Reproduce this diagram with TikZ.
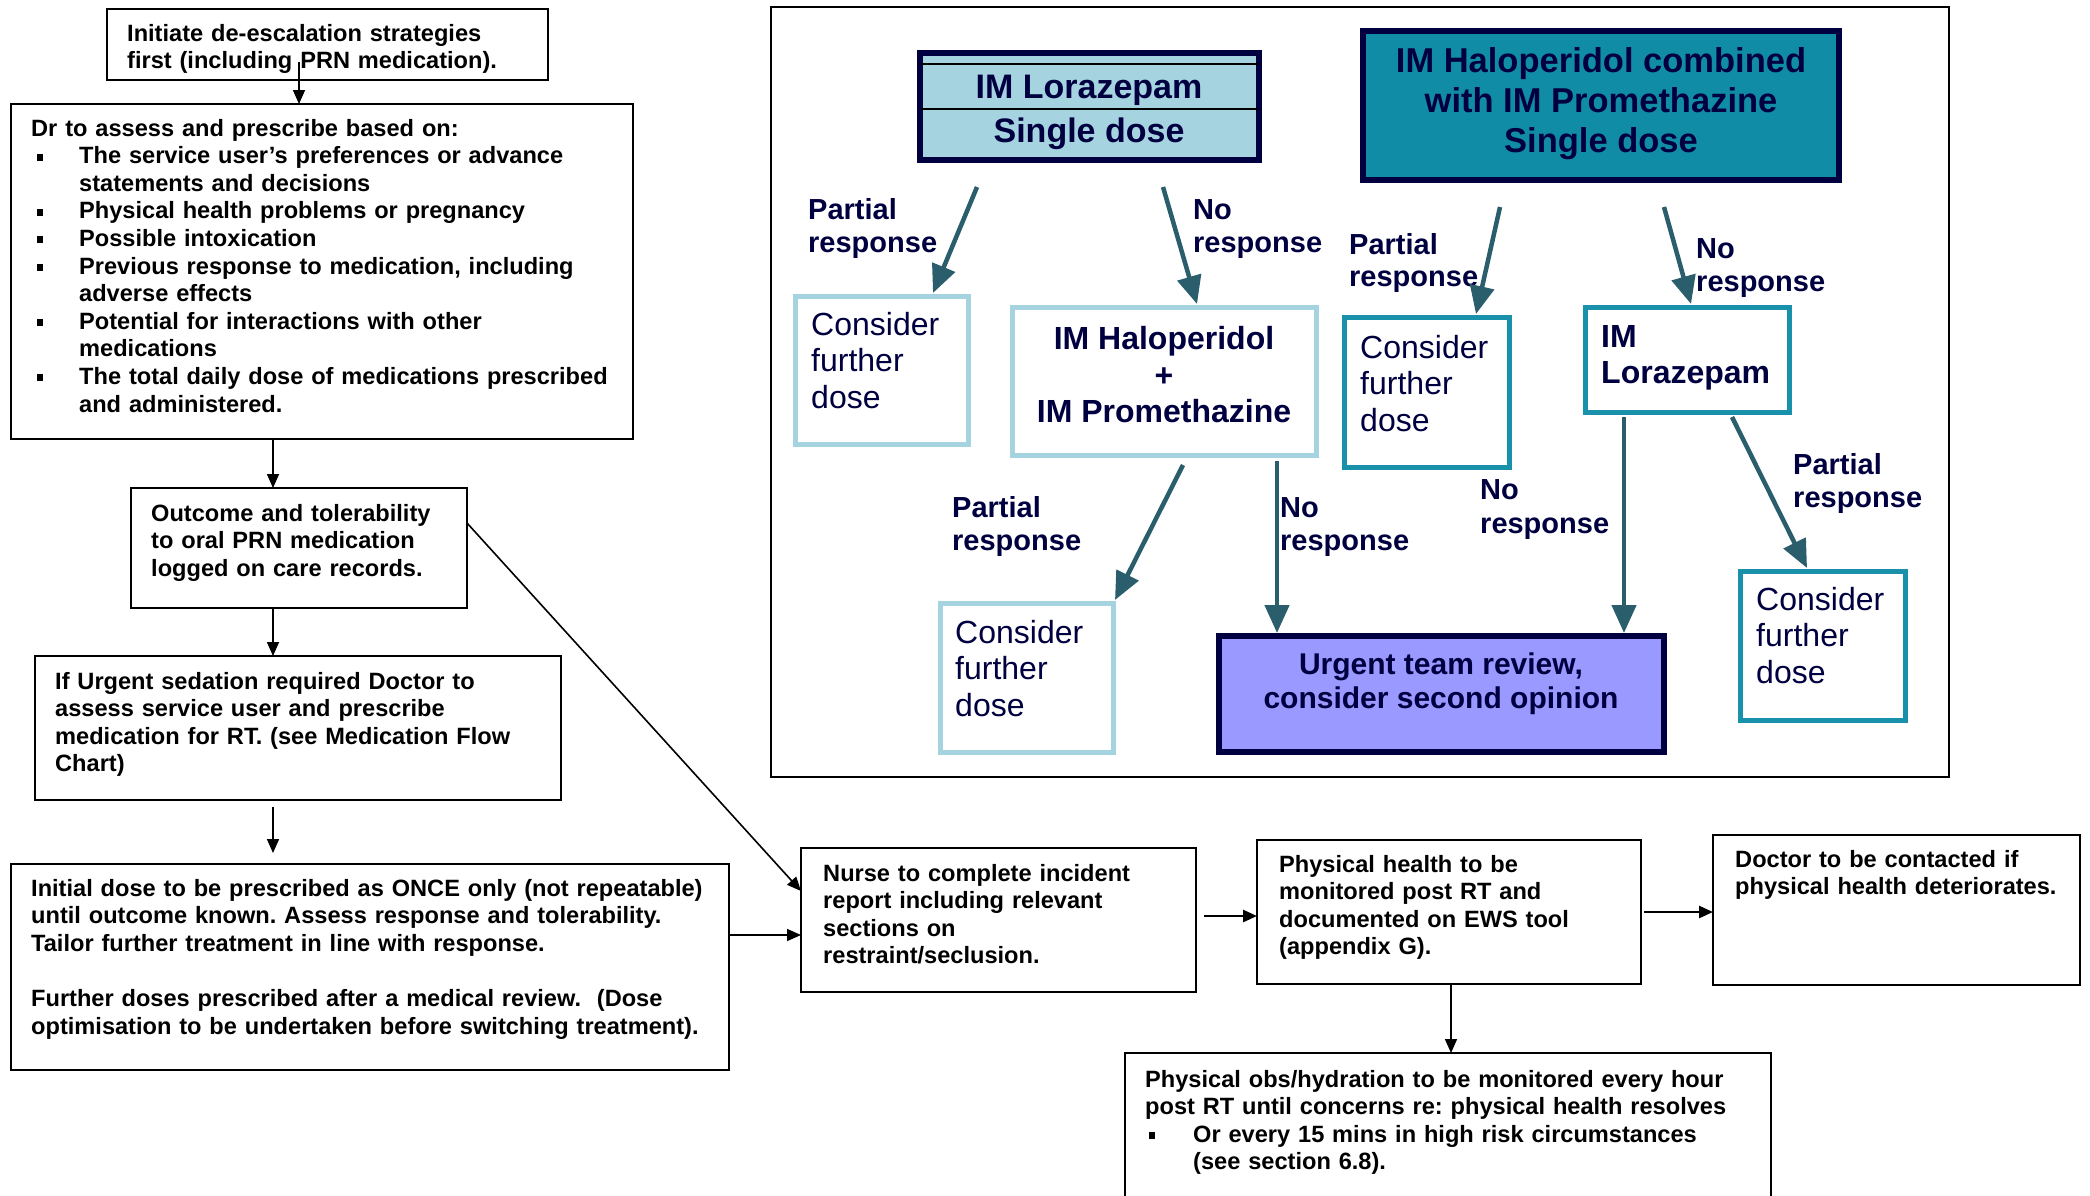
\documentclass[tikz,border=0pt]{standalone}
\usepackage{fontspec}
\setmainfont{Liberation Sans}
\usetikzlibrary{arrows.meta,calc}
\definecolor{navy}{RGB}{0,0,64}
\definecolor{lightb}{RGB}{166,211,224}
\definecolor{tealf}{RGB}{16,140,166}
\definecolor{tealb}{RGB}{25,145,170}
\definecolor{lav}{RGB}{153,153,255}
\definecolor{arrowc}{RGB}{42,94,108}
\newcommand\bul{\makebox[48pt][l]{\hspace{6pt}\rule[3pt]{6pt}{7pt}}}
\newcommand\obul{\makebox[48pt][l]{\hspace{4pt}\rule[3pt]{6pt}{7pt}}}
\newcommand\ind{\hspace*{48pt}}
\frenchspacing
\begin{document}
\begin{tikzpicture}[x=1pt,y=-1pt,
  box/.style={anchor=north west, inner sep=0pt, outer sep=0pt},
  lbox/.style={box, draw=black, line width=1.6pt, fill=white},
  ltxt/.style={anchor=base west, align=left, inner sep=0pt, font=\fontsize{23.6}{27.6}\selectfont\bfseries},
  larr/.style={line width=1.6pt, -{Triangle[length=14pt,width=12pt]}},
  darr/.style={draw=arrowc, line width=4.5pt, -{Triangle[length=28pt,width=24pt]}},
  lightbox/.style={box, draw=lightb, line width=5pt, fill=white},
  tealbox/.style={box, draw=tealb, line width=5pt, fill=white},
  cons/.style={anchor=base west, align=left, inner sep=0pt, text=navy, text width=150pt, font=\fontsize{32}{36.7}\selectfont},
  lab/.style={anchor=base west, align=left, inner sep=0pt, text=navy, text width=160pt, font=\fontsize{29}{33.5}\selectfont\bfseries},
]
\useasboundingbox[fill=white] (0,0) rectangle (2090,1195);

% ---------- left column ----------
\node[lbox, minimum width=441pt, minimum height=71pt] (init) at (107,9) {};
\node[ltxt, text width=420pt] (initT) at (127,41) {Initiate de-escalation strategies\\first (including PRN medication).};

\node[lbox, minimum width=622pt, minimum height=335pt] (dr) at (11,104) {};
\node[ltxt, text width=600pt] (drT) at (31,136) {Dr to assess and prescribe based on:\\
\bul The service user’s preferences or advance\\
\ind statements and decisions\\
\bul Physical health  problems or pregnancy\\
\bul Possible intoxication\\
\bul Previous response to medication, including\\
\ind adverse  effects\\
\bul Potential for interactions with other\\
\ind medications\\
\bul The total daily dose of medications prescribed\\
\ind and administered.};

\node[lbox, minimum width=336pt, minimum height=120pt] (out) at (131,488) {};
\node[ltxt, text width=310pt] (outT) at (151,521) {Outcome and tolerability\\to oral PRN medication\\logged on care records.};

\node[lbox, minimum width=526pt, minimum height=144pt] (usd) at (35,656) {};
\node[ltxt, text width=500pt] (usdT) at (55,689) {If Urgent sedation required Doctor to\\assess service user and prescribe\\medication for RT. (see Medication Flow\\Chart)};

\node[lbox, minimum width=718pt, minimum height=206pt] (ini) at (11,864) {};
\node[ltxt, text width=700pt] (iniT) at (31,896) {Initial dose to be prescribed as ONCE only (not repeatable)\\until outcome known. Assess response and tolerability.\\Tailor further treatment in line with response.\\[27.6pt]Further doses prescribed after a medical review.\ \ (Dose\\optimisation to be undertaken before switching treatment).};

% ---------- bottom row ----------
\node[lbox, minimum width=395pt, minimum height=144pt] (nur) at (801,848) {};
\node[ltxt, text width=370pt] (nurT) at (823,881) {Nurse to complete incident\\report including relevant\\sections on\\restraint/seclusion.};

\node[lbox, minimum width=384pt, minimum height=144pt] (ph) at (1257,840) {};
\node[ltxt, text width=360pt] (phT) at (1279,872) {Physical health to be\\monitored post RT and\\documented on EWS tool\\(appendix G).};

\node[lbox, minimum width=367pt, minimum height=150pt] (doc) at (1713,835) {};
\node[ltxt, text width=345pt] (docT) at (1735,867) {Doctor to be contacted if\\physical health deteriorates.};

\node[lbox, minimum width=646pt, minimum height=180pt] (obs) at (1125,1053) {};
\node[ltxt, text width=630pt] (obsT) at (1145,1087) {Physical obs/hydration to be monitored every hour\\post RT until concerns re: physical health resolves\\\obul Or every 15 mins in high risk circumstances\\\ind (see section 6.8).};

% ---------- left arrows ----------
\draw[larr] ($(init.south west)+(192,-18)$) -- ($(dr.north west)+(288,0)$);
\draw[larr] ($(dr.south west)+(262,0)$) -- ($(out.north west)+(142,0)$);
\draw[larr] ($(out.south west)+(142,0)$) -- ($(usd.north west)+(238,0)$);
\draw[larr] ($(usd.south west)+(238,7)$) -- ($(ini.north west)+(262,-11)$);
\draw[larr] ($(ini.north east)+(0,71)$) -- ($(nur.north west)+(0,87)$);
\draw[larr] ($(out.north east)+(0,35)$) -- ($(nur.north west)+(0,43)$);
\draw[larr, line width=2.6pt] ($(nur.north east)+(8,68)$) -- ($(ph.north west)+(0,76)$);
\draw[larr, line width=2.6pt] ($(ph.north east)+(3,72)$) -- ($(doc.north west)+(0,77)$);
\draw[larr] ($(ph.south west)+(194,0)$) -- ($(obs.north west)+(326,0)$);

% ---------- right panel ----------
\node[box, draw=black, line width=1.6pt, minimum width=1178pt, minimum height=770pt] (frame) at (771,7) {};

\node[box, draw=navy, fill=lightb, line width=5.5pt, minimum width=339pt, minimum height=107pt] (lor) at (920,53) {};
\draw[black, line width=2pt] ($(lor.north west)+(0,11)$) -- ($(lor.north east)+(0,11)$);
\draw[black, line width=2pt] ($(lor.north west)+(0,56)$) -- ($(lor.north east)+(0,56)$);
\node[text=navy, inner sep=0pt, align=center, font=\fontsize{34}{44}\selectfont\bfseries] (lorT) at (1089,112) {IM Lorazepam\\Single dose};

\node[box, draw=navy, fill=tealf, line width=6pt, minimum width=476pt, minimum height=149pt] (halc) at (1363,31) {};
\node[text=navy, inner sep=0pt, align=center, font=\fontsize{34.5}{40}\selectfont\bfseries] (halcT) at (1601,104) {IM Haloperidol combined\\with IM Promethazine\\Single dose};

\node[lightbox, minimum width=173pt, minimum height=148pt] (c1) at (795,296) {};
\node[cons] (c1T) at (811,335) {Consider\\further\\dose};

\node[lightbox, minimum width=304pt, minimum height=148pt] (hp) at (1012,307) {};
\node[text=navy, inner sep=0pt, align=center, font=\fontsize{32}{36.5}\selectfont\bfseries] (hpT) at (1164,375) {IM Haloperidol\\+\\IM Promethazine};

\node[lightbox, minimum width=173pt, minimum height=149pt] (c2) at (940,603) {};
\node[cons] (c2T) at (955,643) {Consider\\further\\dose};

\node[box, draw=navy, fill=lav, line width=6pt, minimum width=445pt, minimum height=116pt] (urg) at (1219,636) {};
\node[text=navy, inner sep=0pt, align=center, font=\fontsize{30}{34}\selectfont\bfseries] (urgT) at (1441,684) {Urgent team review,\\consider second opinion};

\node[tealbox, minimum width=165pt, minimum height=150pt] (c3) at (1344,317) {};
\node[cons] (c3T) at (1360,358) {Consider\\further\\dose};

\node[tealbox, minimum width=204pt, minimum height=105pt] (lor2) at (1585,307) {};
\node[cons, font=\fontsize{32}{36}\selectfont\bfseries] (lor2T) at (1601,347) {IM\\Lorazepam};

\node[tealbox, minimum width=165pt, minimum height=149pt] (c4) at (1740,571) {};
\node[cons] (c4T) at (1756,610) {Consider\\further\\dose};

% labels
\node[lab] (l1) at (808,219) {Partial\\response};
\node[lab] (l2) at (1193,219) {No\\response};
\node[lab, font=\fontsize{29}{32.5}\selectfont\bfseries] (l3) at (1349,254) {Partial\\response};
\node[lab, font=\fontsize{29}{33}\selectfont\bfseries] (l4) at (1696,258) {No\\response};
\node[lab, font=\fontsize{29}{33}\selectfont\bfseries] (l5) at (952,517) {Partial\\response};
\node[lab, font=\fontsize{29}{33}\selectfont\bfseries] (l6) at (1280,517) {No\\response};
\node[lab, font=\fontsize{29}{34}\selectfont\bfseries] (l7) at (1480,499) {No\\response};
\node[lab, font=\fontsize{29}{33}\selectfont\bfseries] (l8) at (1793,474) {Partial\\response};

% right arrows
\draw[darr] ($(lor.south west)+(57,27)$) -- ($(c1.north west)+(138,-3)$);
\draw[darr] ($(lor.south west)+(243,27)$) -- ($(hp.north west)+(185,-3)$);
\draw[darr] ($(hp.south west)+(171,10)$) -- ($(c2.north east)+(2,-3)$);
\draw[darr] ($(hp.south west)+(265,6)$) -- ($(urg.north west)+(58,-3)$);
\draw[darr] ($(halc.south west)+(137,27)$) -- ($(c3.north west)+(132,-3)$);
\draw[darr] ($(halc.south west)+(301,27)$) -- ($(lor2.north west)+(106,-3)$);
\draw[darr] ($(lor2.south west)+(39,5)$) -- ($(urg.north west)+(405,-3)$);
\draw[darr] ($(lor2.south west)+(147,5)$) -- ($(c4.north west)+(67,-3)$);
\end{tikzpicture}
\end{document}
